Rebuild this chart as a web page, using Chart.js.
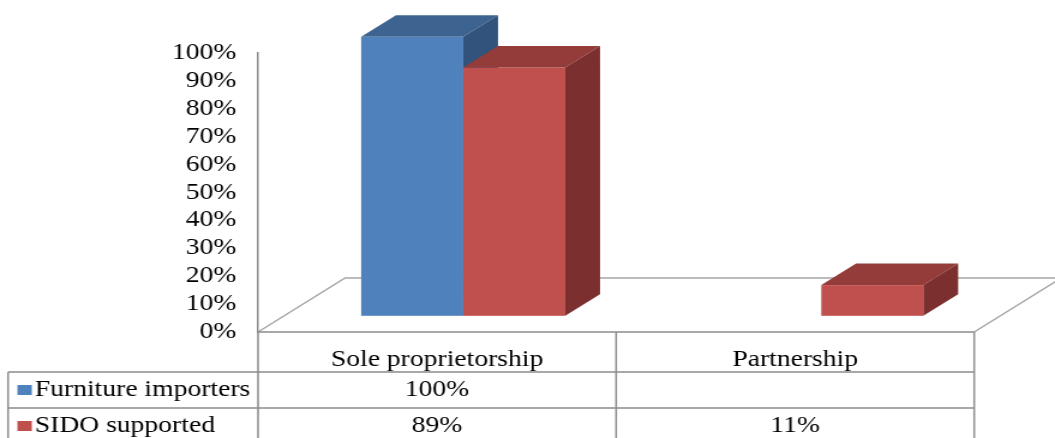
<!DOCTYPE html>
<html>
<head>
<meta charset="utf-8">
<script src="https://cdn.jsdelivr.net/npm/chart.js@4.4.0/dist/chart.umd.min.js"></script>
<style>
body { margin: 0; background: #fff; overflow: hidden; }
/* the chart is drawn narrow and widened, so text and boxes come out stretched */
#wrap { width: 879px; height: 438px; transform: scaleX(1.2002); transform-origin: 0 0; }
</style>
</head>
<body>
<div id="wrap"><canvas id="Chart1" width="879" height="438"></canvas></div>
<script>
var categories = ['Sole proprietorship', 'Partnership'];
var seriesNames = ['Furniture importers', 'SIDO supported'];
var furnitureImporters = [100, null];
var sidoSupported = [89, 11];

var frontColors = ['#4f81bd', '#c0504d'];
var topColors = ['#3d6491', '#943c3a'];
var sideColors = ['#32537c', '#7b302f'];
var lineColor = '#8c8c8c';
var serif = '"Liberation Serif", "Times New Roman", serif';

// floor depth, bars sit between 30% and 70% of it
var depthX = 72.5;
var depthY = -54;

function pct(v) {
    return v == null ? '' : v + '%';
}

var floorPlugin = {
    id: 'floor',
    beforeDatasetsDraw: function (chart) {
        var ctx = chart.ctx;
        var a = chart.chartArea;
        var y0 = chart.scales.y.getPixelForValue(0);
        ctx.save();
        ctx.strokeStyle = '#a6a6a6';
        ctx.lineWidth = 1.5;
        ctx.beginPath();
        ctx.moveTo(a.left, y0);
        ctx.lineTo(a.left + depthX, y0 + depthY);
        ctx.lineTo(a.right + depthX, y0 + depthY);
        ctx.lineTo(a.right, y0);
        ctx.stroke();
        ctx.restore();
    }
};

var boxPlugin = {
    id: 'boxes',
    afterDatasetsDraw: function (chart) {
        var ctx = chart.ctx;
        var offX = depthX * 0.3, offY = depthY * 0.3;
        var bx = depthX * 0.4, by = depthY * 0.4;
        ctx.save();
        chart.data.datasets.forEach(function (ds, d) {
            var meta = chart.getDatasetMeta(d);
            meta.data.forEach(function (bar, i) {
                if (ds.data[i] == null) return;
                var p = bar.getProps(['x', 'y', 'base', 'width'], true);
                var x0 = p.x - p.width / 2 + offX;
                var x1 = p.x + p.width / 2 + offX;
                var yt = p.y + offY;
                var yb = p.base + offY;
                ctx.fillStyle = frontColors[d];
                ctx.fillRect(x0, yt, x1 - x0, yb - yt);
                ctx.fillStyle = topColors[d];
                ctx.beginPath();
                ctx.moveTo(x0, yt);
                ctx.lineTo(x0 + bx, yt + by);
                ctx.lineTo(x1 + bx, yt + by);
                ctx.lineTo(x1, yt);
                ctx.closePath();
                ctx.fill();
                ctx.fillStyle = sideColors[d];
                ctx.beginPath();
                ctx.moveTo(x1, yt);
                ctx.lineTo(x1 + bx, yt + by);
                ctx.lineTo(x1 + bx, yb + by);
                ctx.lineTo(x1, yb);
                ctx.closePath();
                ctx.fill();
            });
        });
        ctx.restore();
    }
};

var tablePlugin = {
    id: 'dataTable',
    afterDraw: function (chart) {
        var ctx = chart.ctx;
        var a = chart.chartArea;
        var xs = chart.scales.x;
        var top = chart.scales.y.getPixelForValue(0);
        var rows = [top + 40, top + 76, top + 112];
        var legendLeft = 6.7;
        var mid = (xs.getPixelForValue(0) + xs.getPixelForValue(1)) / 2;

        ctx.save();
        ctx.strokeStyle = lineColor;
        ctx.lineWidth = 1.5;
        ctx.beginPath();
        ctx.moveTo(a.left, top); ctx.lineTo(a.right, top);
        ctx.moveTo(legendLeft, rows[0]); ctx.lineTo(a.right, rows[0]);
        ctx.moveTo(legendLeft, rows[1]); ctx.lineTo(a.right, rows[1]);
        ctx.moveTo(legendLeft, rows[2]); ctx.lineTo(a.right, rows[2]);
        ctx.moveTo(legendLeft, rows[0]); ctx.lineTo(legendLeft, rows[2]);
        ctx.moveTo(a.left, top); ctx.lineTo(a.left, rows[2]);
        ctx.moveTo(mid, top); ctx.lineTo(mid, rows[2]);
        ctx.moveTo(a.right, top); ctx.lineTo(a.right, rows[2]);
        ctx.stroke();

        ctx.font = '23px ' + serif;
        ctx.fillStyle = '#000';
        ctx.textBaseline = 'alphabetic';
        ctx.textAlign = 'center';
        categories.forEach(function (c, i) {
            ctx.fillText(c, xs.getPixelForValue(i), top + 34);
        });

        chart.data.datasets.forEach(function (ds, d) {
            var base = rows[d] + 24;
            ctx.fillStyle = frontColors[d];
            ctx.fillRect(14.5, base - 11, 12, 10);
            ctx.fillStyle = '#000';
            ctx.textAlign = 'left';
            ctx.fillText(ds.label, 29, base);
            ctx.textAlign = 'center';
            ds.data.forEach(function (v, i) {
                ctx.fillText(pct(v), xs.getPixelForValue(i), base);
            });
        });
        ctx.restore();
    }
};

var ctx = document.getElementById('Chart1').getContext('2d');
var Chart1 = new Chart(ctx, {
    type: 'bar',
    data: {
        labels: categories,
        datasets: [{
            label: seriesNames[0],
            data: furnitureImporters,
            backgroundColor: 'rgba(0,0,0,0)'
        }, {
            label: seriesNames[1],
            data: sidoSupported,
            backgroundColor: 'rgba(0,0,0,0)'
        }]
    },
    options: {
        responsive: false,
        devicePixelRatio: 1,
        animation: false,
        categoryPercentage: 0.57,
        barPercentage: 1,
        layout: {
            padding: { top: 53, bottom: 106, left: 0, right: 67.3 }
        },
        plugins: {
            legend: { display: false },
            tooltip: { enabled: false }
        },
        scales: {
            x: { display: false },
            y: {
                min: 0,
                max: 100,
                afterFit: function (scale) { scale.width = 215; },
                grid: { display: false, drawTicks: false },
                border: { display: true, color: lineColor, width: 1.5 },
                ticks: {
                    stepSize: 10,
                    autoSkip: false,
                    padding: 18,
                    color: '#000',
                    font: { family: serif, size: 23 },
                    callback: function (v) { return v + '%'; }
                }
            }
        }
    },
    plugins: [floorPlugin, boxPlugin, tablePlugin]
});
</script>
</body>
</html>
